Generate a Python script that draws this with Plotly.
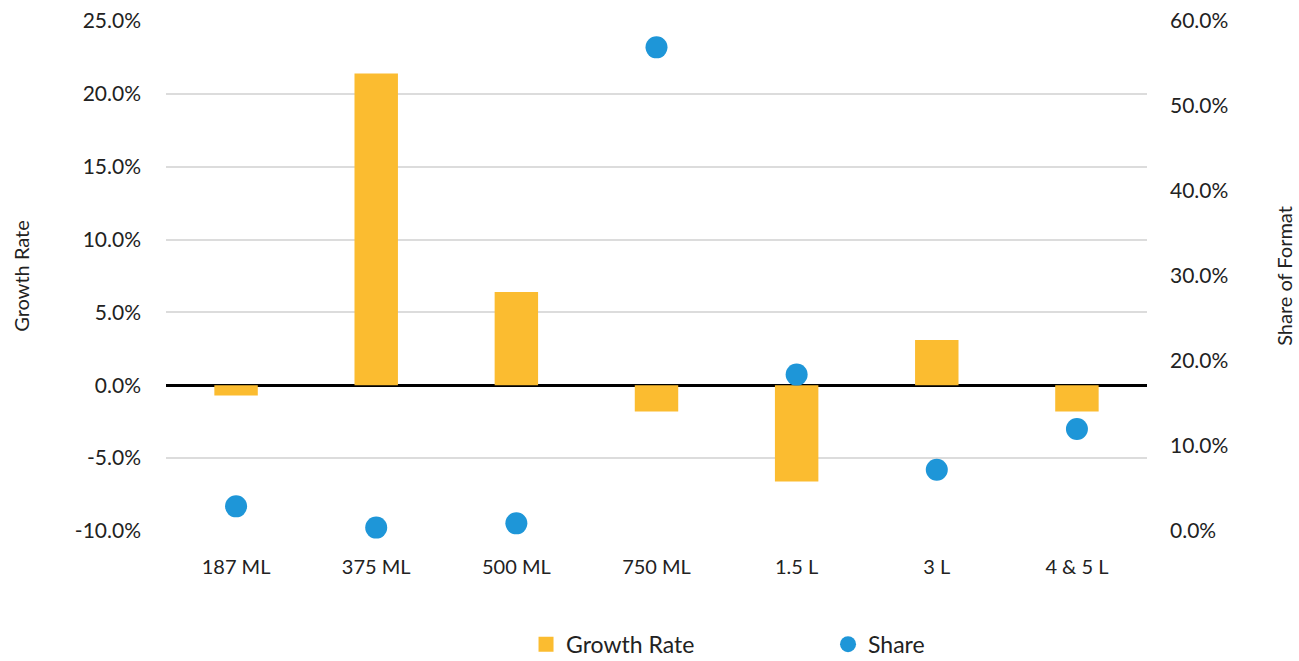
import plotly.graph_objects as go

categories = ["187 ML", "375 ML", "500 ML", "750 ML", "1.5 L", "3 L", "4 & 5 L"]
growth_rate = [-0.007, 0.214, 0.064, -0.018, -0.066, 0.031, -0.018]
share = [0.029, 0.004, 0.009, 0.569, 0.184, 0.072, 0.12]

left_ticks = [-0.10, -0.05, 0.0, 0.05, 0.10, 0.15, 0.20, 0.25]
left_labels = ["-10.0%", "-5.0%", "0.0%", "5.0%", "10.0%", "15.0%", "20.0%", "25.0%"]
right_ticks = [0.0, 0.1, 0.2, 0.3, 0.4, 0.5, 0.6]
right_labels = ["0.0%", "10.0%", "20.0%", "30.0%", "40.0%", "50.0%", "60.0%"]

FONT = "Lato"
YELLOW = "#FBBC30"
BLUE = "#1E96D8"

fig = go.Figure()
fig.add_trace(go.Bar(
    x=categories, y=growth_rate, name="Growth Rate",
    marker=dict(color=YELLOW, line=dict(width=0)),
    width=0.31, yaxis="y", showlegend=False,
))
fig.add_trace(go.Scatter(
    x=categories, y=share, name="Share", mode="markers",
    marker=dict(color=BLUE, size=22, line=dict(width=0)),
    yaxis="y2", showlegend=False, cliponaxis=False,
))
# legend entries
fig.add_trace(go.Scatter(
    x=[None], y=[None], name="Growth Rate", mode="markers",
    marker=dict(color=YELLOW, size=15, symbol="square", line=dict(width=0)),
    yaxis="y",
))
fig.add_trace(go.Scatter(
    x=[None], y=[None], name="Share", mode="markers",
    marker=dict(color=BLUE, size=22, line=dict(width=0)),
    yaxis="y2",
))

fig.update_layout(
    width=1299, height=661,
    paper_bgcolor="white", plot_bgcolor="white",
    margin=dict(l=166, r=152, t=21, b=130, autoexpand=False),
    font=dict(family=FONT, size=21, color="#222222"),
    showlegend=True,
    legend=dict(
        orientation="h", x=0.367, xanchor="left", y=-0.222, yanchor="middle",
        font=dict(size=23, color="#222222"), entrywidth=257, itemsizing="trace",
    ),
    xaxis=dict(
        showgrid=False, showline=False, ticks="",
        tickfont=dict(size=20), range=[-0.5, 6.5], ticklabelstandoff=22,
    ),
    yaxis=dict(
        title=dict(text="Growth Rate", font=dict(size=20), standoff=39),
        range=[-0.10, 0.25], tickvals=left_ticks, ticktext=left_labels,
        showgrid=True, gridcolor="#DCDCDC", gridwidth=1.5,
        zeroline=True, zerolinecolor="#000000", zerolinewidth=3,
        showline=False, ticks="", ticklabelstandoff=24,
    ),
    yaxis2=dict(
        title=dict(text="Share of Format", font=dict(size=20), standoff=50),
        overlaying="y", side="right",
        range=[0.0, 0.60], tickvals=right_ticks, ticktext=right_labels,
        showgrid=False, zeroline=False, showline=False, ticks="",
        ticklabelstandoff=22,
    ),
)

fig.write_html("out.html")
